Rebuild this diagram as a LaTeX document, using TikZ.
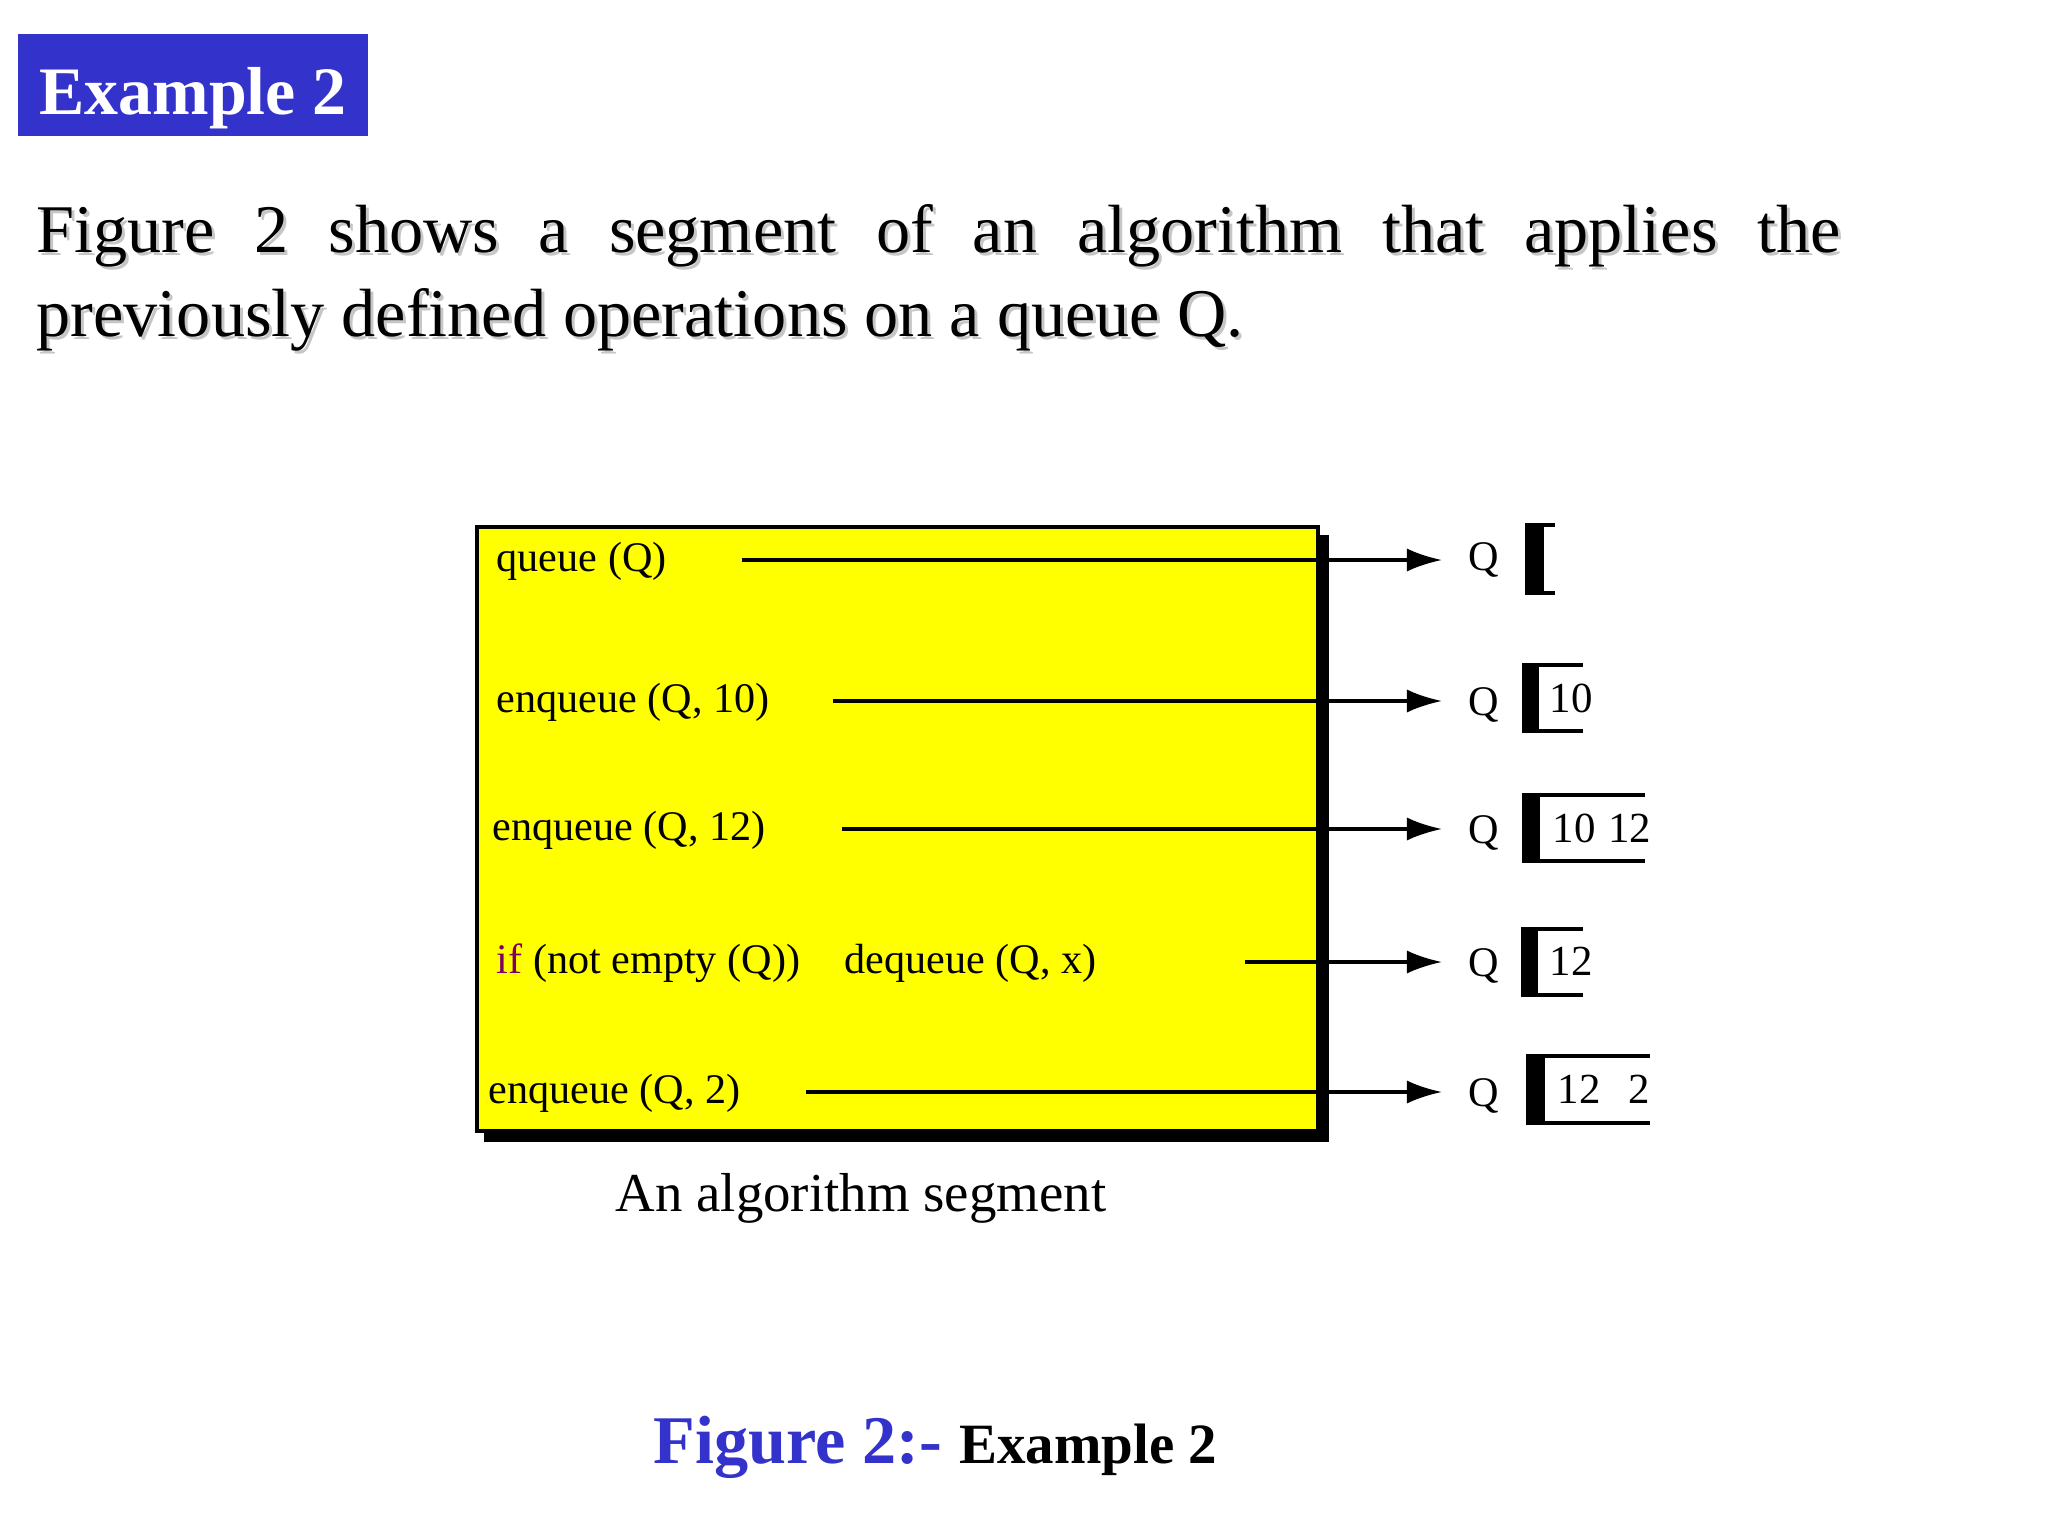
\documentclass[tikz,border=0pt]{standalone}
\usepackage{fontspec}
\setmainfont{Liberation Serif}
\usetikzlibrary{arrows.meta,positioning}

\definecolor{slideblue}{RGB}{51,51,204}
\definecolor{ifpurple}{RGB}{128,0,96}
\definecolor{segyellow}{RGB}{255,255,0}

% queue frame: left x, top y, bottom y, right x, bar width
\newcommand{\qframe}[5]{%
  \fill (#1,#2) rectangle (#1+#5,#3);
  \fill (#1,#2) rectangle (#4,#2+4);
  \fill (#1,#3-4) rectangle (#4,#3);
}

\begin{document}
\begin{tikzpicture}[
      x=0.01cm, y=-0.01cm,
      titlebox/.style={fill=slideblue, text=white, inner sep=0pt, minimum width=99.6pt, minimum height=29pt,
        text height=17.6pt, text depth=1.1pt, font=\fontsize{19.3}{23}\selectfont\bfseries},
      para/.style={anchor=base west, inner sep=0pt, font=\fontsize{19.4}{23}\selectfont},
      op/.style={anchor=base west, inner sep=0pt, font=\fontsize{12}{14}\selectfont},
      qlabel/.style={anchor=base, inner sep=0pt, font=\fontsize{12}{14}\selectfont},
      qitem/.style={anchor=base west, inner sep=0pt, font=\fontsize{12.2}{14}\selectfont},
      arrow/.style={-{Latex[length=10pt,width=6.6pt]}, line width=1pt, shorten >=7.4pt}
    ]
    \useasboundingbox[fill=white] (0,0) rectangle (2048,1536);

    \node[titlebox] (title) at (193,85) {Example 2};

    % paragraph with its drop shadow
    \node[para, text=gray!45] (line1s) at (39,255) {\makebox[513pt][s]{Figure 2 shows a segment of an algorithm that applies the}};
    \node[para] (line1) at (36,252) {\makebox[513pt][s]{Figure 2 shows a segment of an algorithm that applies the}};
    \node[para, text=gray!45] (line2s) at (39,339) {previously defined operations on a queue Q.};
    \node[para] (line2) at (36,336) {previously defined operations on a queue Q.};

    % algorithm segment
    \fill (484,535) rectangle (1329,1142);
    \draw[line width=1.14pt, fill=segyellow] (477,527) rectangle (1318,1131);

    \node[op] (op1) at (496,571) {queue (Q)};
    \node[op] (op2) at (496,712) {enqueue (Q, 10)};
    \node[op] (op3) at (492,840) {enqueue (Q, 12)};
    \node[op] (op4) at (496,973) {\textcolor{ifpurple}{if} (not empty (Q))};
    \node[op] (deq) at (844,973) {dequeue (Q, x)};
    \node[op] (op5) at (488,1103) {enqueue (Q, 2)};

    \node[op, font=\fontsize{15.6}{18}\selectfont, anchor=base] (segcap) at (861,1211) {An algorithm segment};

    % queue states
    \node[qlabel] (q1) at (1484,570) {Q};
    \node[qlabel] (q2) at (1484,715) {Q};
    \node[qlabel] (q3) at (1484,843) {Q};
    \node[qlabel] (q4) at (1484,976) {Q};
    \node[qlabel] (q5) at (1484,1106) {Q};

    \coordinate (s1) at (742,560);
    \coordinate (s2) at (833,701);
    \coordinate (s3) at (842,829);
    \coordinate (s4) at (1245,962);
    \coordinate (s5) at (806,1092);

    \draw[arrow] (s1) -- (s1 -| q1.west);
    \draw[arrow] (s2) -- (s2 -| q2.west);
    \draw[arrow] (s3) -- (s3 -| q3.west);
    \draw[arrow] (s4) -- (s4 -| q4.west);
    \draw[arrow] (s5) -- (s5 -| q5.west);

    \qframe{1525}{523}{595}{1555}{19}
    \qframe{1522}{663}{733}{1583}{17}
    \qframe{1522}{793}{863}{1645}{18}
    \qframe{1521}{927}{997}{1583}{17}
    \qframe{1526}{1054}{1125}{1650}{19}

    \node[qitem] (v2) at (1549,712) {10};
    \node[qitem] (v3) at (1552,842) {10\hspace{3.6pt}12};
    \node[qitem] (v4) at (1549,975) {12};
    \node[qitem] (v5) at (1557,1103) {12\hspace{8pt}2};

    \node[para, font=\fontsize{19.4}{23}\selectfont\bfseries] (figcap) at (653,1463)
      {\textcolor{slideblue}{Figure 2:-} {\fontsize{16.2}{19}\selectfont Example 2}};
  \end{tikzpicture}
\end{document}
